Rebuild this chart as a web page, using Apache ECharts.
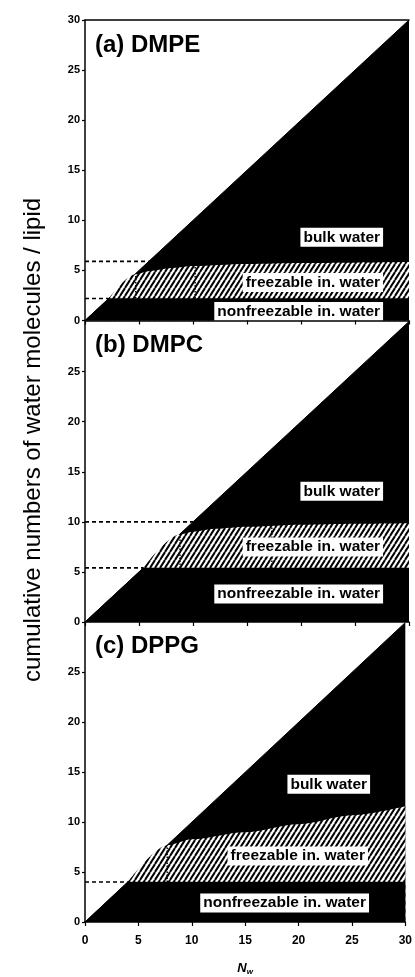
<!DOCTYPE html>
<html>
<head>
<meta charset="utf-8">
<script src="https://cdn.jsdelivr.net/npm/echarts@6/dist/echarts.min.js"></script>
<style>
  html, body { margin: 0; padding: 0; background: #fff; }
  #chart { width: 415px; height: 977px; }
</style>
</head>
<body>
<div id="chart"></div>
<script>
// ---- data ----
const nwTicks = [0, 5, 10, 15, 20, 25, 30];
const totalWater = [[0, 0], [30, 30]];            // all water added: y = Nw
const regionNames = ['bulk water', 'freezable in. water', 'nonfreezable in. water'];
const panelNames = ['(a) DMPE', '(b) DMPC', '(c) DPPG'];

// DMPE
const dmpeNonfreezable = 2.2;
const dmpeFreezableTop = [[2.2, 2.2], [4.6, 4.6], [6, 4.95], [8, 5.25], [10, 5.45], [15, 5.65], [20, 5.75], [30, 5.85]];
const dmpeDashedLevels = [2.2, 5.9];
const dmpeDottedX = [4.7, 10.2];
const dmpeDottedTop = [4.55, 5.45];

// DMPC
const dmpcNonfreezable = 5.4;
const dmpcFreezableTop = [[5.4, 5.4], [8.7, 8.7], [10, 9.0], [12, 9.3], [15, 9.5], [20, 9.7], [25, 9.8], [30, 9.85]];
const dmpcDashedLevels = [5.4, 10.0];
const dmpcDottedX = [8.8, 17.3];
const dmpcDottedTop = [8.7, 9.6];

// DPPG
const dppgNonfreezable = 4.0;
const dppgFreezableTop = [[4.0, 4.0], [7.7, 7.7], [10, 8.3], [15, 9.0], [20, 9.8], [25, 10.7], [30, 11.6]];
const dppgDashedLevels = [4.0];
const dppgDottedX = [7.7];
const dppgDottedTop = [7.65];

// ---- layout (data-space anchors for the region labels: right edge x, centre y) ----
const labelAnchors = [
  [[27.6, 8.3], [27.6, 3.8], [27.6, 0.9]],
  [[27.6, 13.05], [27.6, 7.5], [27.6, 2.8]],
  [[26.7, 13.8], [26.5, 6.6], [26.6, 1.9]]
];
const grids = [
  { left: 85, top: 20, width: 324, height: 300.5 },
  { left: 85, top: 321.5, width: 324, height: 300.5 },
  { left: 85, top: 622.5, width: 324, height: 300.5 }
];
const titleTops = [33, 333, 634];

const FONT = '"Liberation Sans", Arial, Helvetica, sans-serif';

// diagonal hatch tile for the freezable band
function hatchTile() {
  const d = 5, h = 8;
  const c = document.createElement('canvas');
  c.width = d; c.height = h;
  const g = c.getContext('2d');
  g.fillStyle = '#fff';
  g.fillRect(0, 0, d, h);
  g.strokeStyle = '#000';
  g.lineWidth = 2;
  for (const o of [-d, 0, d]) {
    g.beginPath();
    g.moveTo(o, h);
    g.lineTo(o + d, 0);
    g.stroke();
  }
  return c;
}
const hatch = { image: hatchTile(), repeat: 'repeat' };

const panels = [
  { nf: dmpeNonfreezable, top: dmpeFreezableTop, dashed: dmpeDashedLevels, dx: dmpeDottedX, dt: dmpeDottedTop },
  { nf: dmpcNonfreezable, top: dmpcFreezableTop, dashed: dmpcDashedLevels, dx: dmpcDottedX, dt: dmpcDottedTop },
  { nf: dppgNonfreezable, top: dppgFreezableTop, dashed: dppgDashedLevels, dx: dppgDottedX, dt: dppgDottedTop }
];

const xAxes = [], yAxes = [], series = [];
const axisLine = { show: true, onZero: false, lineStyle: { color: '#000', width: 1.5 } };

panels.forEach((p, i) => {
  const last = i === panels.length - 1;
  xAxes.push({
    type: 'value', gridIndex: i, min: nwTicks[0], max: nwTicks[nwTicks.length - 1], interval: 5,
    position: 'bottom',
    axisLine: axisLine,
    axisTick: { show: true, inside: false, length: 4, lineStyle: { color: '#000', width: 1.2 } },
    axisLabel: { show: last, margin: 13, color: '#000', fontFamily: FONT, fontWeight: 'bold', fontSize: 12 },
    splitLine: { show: false },
    name: last ? '{n|N}{w|w}' : '',
    nameLocation: 'middle',
    nameGap: 38,
    nameTextStyle: {
      rich: {
        n: { fontFamily: FONT, fontStyle: 'italic', fontWeight: 'bold', fontSize: 13, color: '#000', lineHeight: 16 },
        w: { fontFamily: FONT, fontStyle: 'italic', fontWeight: 'bold', fontSize: 8, color: '#000', lineHeight: 16, verticalAlign: 'bottom', padding: [6, 0, 0, 0] }
      }
    },
    z: 10
  });
  yAxes.push({
    type: 'value', gridIndex: i, min: 0, max: 30, interval: 5,
    axisLine: axisLine,
    axisTick: { show: true, inside: false, length: 3, lineStyle: { color: '#000', width: 1.2 } },
    axisLabel: { margin: 5, color: '#000', fontFamily: FONT, fontWeight: 'bold', fontSize: 11, showMaxLabel: i === 0 },
    splitLine: { show: false },
    z: 10
  });

  // whole water content (black triangle under y = Nw)
  series.push({
    type: 'line', xAxisIndex: i, yAxisIndex: i, data: totalWater, symbol: 'none',
    lineStyle: { color: '#000', width: 1 }, areaStyle: { color: '#000', opacity: 1 },
    silent: true, z: 1
  });
  // freezable interlamellar water (hatched)
  series.push({
    type: 'line', xAxisIndex: i, yAxisIndex: i, data: p.top, symbol: 'none',
    smooth: 0.3, smoothMonotone: 'x',
    lineStyle: { width: 0 }, areaStyle: { color: hatch, opacity: 1 },
    silent: true, z: 2
  });
  // nonfreezable interlamellar water (black, below its level)
  series.push({
    type: 'line', xAxisIndex: i, yAxisIndex: i,
    data: [[0, 0], [p.nf, p.nf], [30, p.nf]], symbol: 'none',
    lineStyle: { color: '#000', width: 0.5 }, areaStyle: { color: '#000', opacity: 1 },
    silent: true, z: 3
  });
  // dashed guide levels from the axis to the diagonal
  p.dashed.forEach(v => {
    series.push({
      type: 'line', xAxisIndex: i, yAxisIndex: i, data: [[0, v], [v, v]], symbol: 'none',
      lineStyle: { color: '#000', width: 1.6, type: [4, 3] }, silent: true, z: 4
    });
  });
  // dotted verticals through the hatched band
  p.dx.forEach((x, k) => {
    series.push({
      type: 'line', xAxisIndex: i, yAxisIndex: i, data: [[x, p.nf], [x, p.dt[k]]], symbol: 'none',
      lineStyle: { color: '#000', width: 1.4, type: [1.5, 1.5] }, silent: true, z: 4
    });
  });
  // region labels on white boxes
  series.push({
    type: 'scatter', xAxisIndex: i, yAxisIndex: i, symbolSize: 0, silent: true, z: 6,
    itemStyle: { opacity: 1 },
    data: labelAnchors[i].map((a, k) => ({ value: a, name: regionNames[k] })),
    label: {
      show: true, position: 'left', distance: 0, formatter: '{b}',
      color: '#000', fontFamily: FONT, fontWeight: 'bold', fontSize: 15.5,
      backgroundColor: '#fff', padding: [1, 3, 0, 3], lineHeight: 18, opacity: 1
    }
  });
});

// top frame line of the first panel
xAxes.push({
  type: 'value', gridIndex: 0, min: 0, max: 30, position: 'top',
  axisLine: axisLine, axisTick: { show: false }, axisLabel: { show: false }, splitLine: { show: false }
});

const chart = echarts.init(document.getElementById('chart'), null, { renderer: 'canvas' });
chart.setOption({
  animation: false,
  backgroundColor: '#fff',
  title: panelNames.map((t, i) => ({
    text: t, left: 95, top: titleTops[i], padding: 0,
    textStyle: { fontFamily: FONT, fontWeight: 'bold', fontSize: 24, color: '#000' }
  })),
  grid: grids,
  xAxis: xAxes,
  yAxis: yAxes,
  series: series,
  graphic: [{
    type: 'text', x: 33, y: 440, rotation: Math.PI / 2, silent: true,
    style: {
      text: 'cumulative numbers of water molecules / lipid',
      fontFamily: FONT, fontSize: 24, fill: '#000', align: 'center', verticalAlign: 'middle'
    }
  }]
});
</script>
</body>
</html>
